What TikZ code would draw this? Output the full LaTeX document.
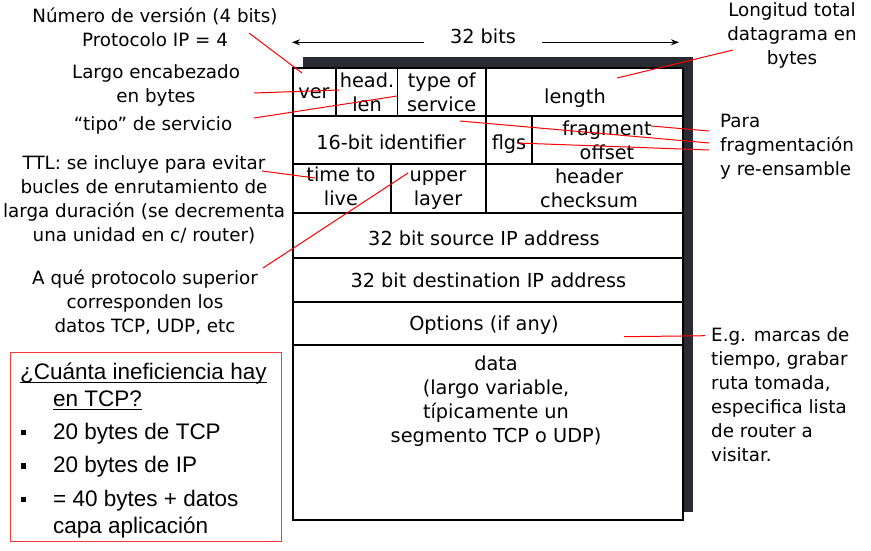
\documentclass[tikz,border=0pt]{standalone}
\usepackage{fontspec}
\usetikzlibrary{arrows.meta}
\setmainfont{DejaVu Sans}
\newfontfamily\arialfont{Liberation Sans}
\definecolor{framedark}{HTML}{2A2A33}
\definecolor{boxred}{HTML}{F03C3C}
\newcommand{\lblsize}{\fontsize{18.3}{24}\selectfont}
\newcommand{\fldsize}{\fontsize{19.3}{24}\selectfont}
\newcommand{\boxsize}{\arialfont\fontsize{22.5}{27}\selectfont}
\begin{document}
\begin{tikzpicture}[x=1pt,y=-1pt,>={Stealth[length=8pt,width=6pt]},
    fld/.style={inner sep=0pt,font=\fldsize,align=center},
    lbl/.style={inner sep=0pt,font=\lblsize,align=center},
    boxtxt/.style={inner sep=0pt,font=\boxsize,anchor=base west},
    ptr/.style={red,line width=1pt},
    grid/.style={line width=1.6pt}]
\useasboundingbox (0,0) rectangle (871,550);

% datagram frame with its shadow
\fill[framedark] (303,57) rectangle (693,512);
\draw[grid,fill=white] (293,68) rectangle (683,520);
\draw[grid] (293,116) -- (683,116) (293,164) -- (683,164) (293,212.7) -- (683,212.7)
  (293,257.7) -- (683,257.7) (293,302) -- (683,302) (293,344.7) -- (683,344.7);
\draw[grid] (336,68) -- (336,116) (397.3,68) -- (397.3,116) (485.7,68) -- (485.7,212.7)
  (531.7,116) -- (531.7,164) (391,164) -- (391,212.7);

% fields
\node[fld,anchor=base] (ver) at (314,98) {ver};
\node[fld] (hlen) at (367,92.6) {head.\\len};
\node[fld] (tos) at (441.7,92.2) {type of\\service};
\node[fld,anchor=base] (len) at (575,103.3) {length};
\node[fld,anchor=base] (ident) at (391,149.3) {16-bit identifier};
\node[fld,anchor=base] (flgs) at (509,149.3) {flgs};
\node[fld] (frag) at (607,140.7) {fragment\\offset};
\node[fld] (ttl) at (341,186) {time to\\live};
\node[fld] (upper) at (438,189.8) {upper\\layer};
\node[fld] (csum) at (589,187.8) {header\\checksum};
\node[fld,anchor=base] (src) at (484,245) {32 bit source IP address};
\node[fld,anchor=base] (dst) at (488.3,287.3) {32 bit destination IP address};
\node[fld,anchor=base] (opt) at (484,330) {Options (if any)};
\node[fld] (data) at (496,401) {data\\(largo variable,\\típicamente un\\segmento TCP o UDP)};

% width arrow
\node[fld,anchor=base,outer xsep=26pt] (bits) at (483,43) {32 bits};
\coordinate (bitsL) at (292,42.3);
\coordinate (bitsR) at (679,42.3);
\draw[line width=1.2pt,->] (bits.west |- bitsL) -- (bitsL);
\draw[line width=1.2pt,->] (bits.east |- bitsR) -- (bitsR);

% annotations
\node[lbl] (verlbl) at (155,27.2) {Número de versión (4 bits)\\Protocolo IP = 4};
\node[lbl] (hlenlbl) at (156,85.5) {Largo encabezado\\en bytes};
\node[lbl,anchor=base] (toslbl) at (153,130) {“tipo” de servicio};
\node[lbl] (ttllbl) at (144,200.2) {TTL: se incluye para evitar\\bucles de enrutamiento de\\larga duración (se decrementa\\una unidad en c/ router)};
\node[lbl] (protolbl) at (145,301.8) {A qué protocolo superior\\corresponden los\\datos TCP, UDP, etc};
\node[lbl] (lenlbl) at (792,35.5) {Longitud total\\datagrama en\\bytes};
\node[lbl,align=left,anchor=west] (fraglbl) at (720,147.1) {Para\\fragmentación\\y re-ensamble};
\node[lbl,align=left,anchor=west] (optlbl) at (711,394.8) {E.g. marcas de\\tiempo, grabar\\ruta tomada,\\especifica lista\\de router a\\visitar.};

% pointers
\coordinate (p-ver) at (249,33);   \coordinate (q-ver) at (302,73);
\coordinate (p-hlen) at (254,93);  \coordinate (q-hlen) at (339,90);
\coordinate (p-tos) at (254,118);  \coordinate (q-tos) at (397,96);
\coordinate (p-ttl) at (262,171);  \coordinate (q-ttl) at (315,178);
\coordinate (p-proto) at (263,268); \coordinate (q-proto) at (408,173);
\coordinate (p-len) at (733,50);   \coordinate (q-len) at (617,78);
\coordinate (p-fa) at (709,131);   \coordinate (q-fa) at (651,126);
\coordinate (p-fb) at (709,143);   \coordinate (q-fb) at (460,121);
\coordinate (p-fc) at (709,150);   \coordinate (q-fc) at (517,143);
\coordinate (p-opt) at (705,335.7); \coordinate (q-opt) at (624,336.7);
\draw[ptr] (p-ver) -- (q-ver);
\draw[ptr] (p-hlen) -- (q-hlen);
\draw[ptr] (p-tos) -- (q-tos);
\draw[ptr] (p-ttl) -- (q-ttl);
\draw[ptr] (p-proto) -- (q-proto);
\draw[ptr] (p-len) -- (q-len);
\draw[ptr] (p-fa) -- (q-fa);
\draw[ptr] (p-fb) -- (q-fb);
\draw[ptr] (p-fc) -- (q-fc);
\draw[ptr] (p-opt) -- (q-opt);

% overhead box
\draw[boxred,line width=1pt] (10,352.3) rectangle (281,541);
\node[boxtxt] (q1) at (20,379.4) {¿Cuánta ineficiencia hay};
\node[boxtxt] (q2) at (53,406) {en TCP?};
\draw[line width=0.9pt] ([yshift=-3.5pt]q1.base west) -- ([yshift=-3.5pt]q1.base east);
\draw[line width=0.9pt] ([yshift=-3.5pt]q2.base west) -- ([yshift=-3.5pt]q2.base east);
\foreach \y in {432.7,466,499.3}
  \fill (20.8,\y-2.7) rectangle ++(5.3,5.3);
\node[boxtxt] (i1) at (53,439.4) {20 bytes de TCP};
\node[boxtxt] (i2) at (53,472.8) {20 bytes de IP};
\node[boxtxt] (i3) at (53,506) {= 40 bytes + datos};
\node[boxtxt] (i4) at (53,533) {capa aplicación};
\end{tikzpicture}
\end{document}
